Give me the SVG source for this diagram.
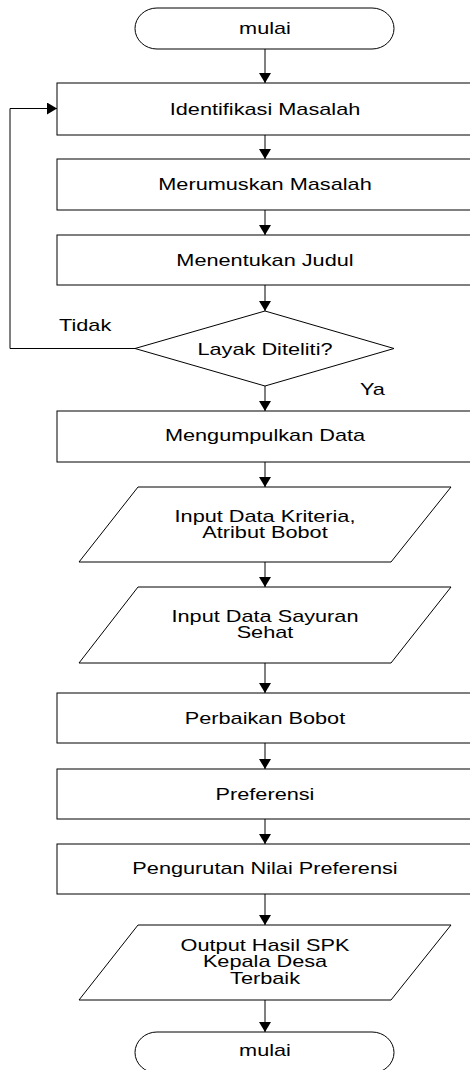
<svg xmlns="http://www.w3.org/2000/svg" width="470" height="1070" viewBox="0 0 470 1070">
<style>
.s{fill:#fff;stroke:#000;stroke-width:1}
.t{font-family:"Liberation Sans",Arial,sans-serif;font-size:16.2px;fill:#000}
.c{stroke:#000;stroke-width:1;fill:none}
</style>
<defs>
<marker id="ah" markerUnits="userSpaceOnUse" markerWidth="12" markerHeight="12" refX="10" refY="6" orient="auto" viewBox="0 0 10 12">
<path d="M0,0 L10,6 L0,12 z" fill="#000"/>
</marker>
</defs>
<rect width="470" height="1070" fill="#fff"/>
<g id="connectors">
<line class="c" x1="265" y1="49" x2="265" y2="83" marker-end="url(#ah)"/>
<line class="c" x1="265" y1="135" x2="265" y2="159" marker-end="url(#ah)"/>
<line class="c" x1="265" y1="210" x2="265" y2="235" marker-end="url(#ah)"/>
<line class="c" x1="265" y1="285" x2="265" y2="311" marker-end="url(#ah)"/>
<line class="c" x1="265" y1="386" x2="265" y2="411" marker-end="url(#ah)"/>
<line class="c" x1="265" y1="462" x2="265" y2="487" marker-end="url(#ah)"/>
<line class="c" x1="265" y1="562" x2="265" y2="587" marker-end="url(#ah)"/>
<line class="c" x1="265" y1="663" x2="265" y2="693" marker-end="url(#ah)"/>
<line class="c" x1="265" y1="743" x2="265" y2="769" marker-end="url(#ah)"/>
<line class="c" x1="265" y1="819" x2="265" y2="844" marker-end="url(#ah)"/>
<line class="c" x1="265" y1="894" x2="265" y2="925" marker-end="url(#ah)"/>
<line class="c" x1="265" y1="1000" x2="265" y2="1032" marker-end="url(#ah)"/>
<polyline class="c" points="135,348.5 10,348.5 10,108.5 57,108.5" marker-end="url(#ah)"/>
<text class="t" transform="translate(59,331) scale(1.34,1)">Tidak</text>
<text class="t" transform="translate(360,395) scale(1.34,1)">Ya</text>
</g>
<g id="start">
<rect class="s" x="135" y="8" width="259" height="41" rx="22" ry="20.5"/>
<text class="t" text-anchor="middle" transform="translate(265,34) scale(1.34,1)">mulai</text>
</g>
<g id="identifikasi">
<rect class="s" x="57" y="83" width="416" height="52"/>
<text class="t" text-anchor="middle" transform="translate(265,115) scale(1.34,1)">Identifikasi Masalah</text>
</g>
<g id="merumuskan">
<rect class="s" x="57" y="159" width="416" height="51"/>
<text class="t" text-anchor="middle" transform="translate(265,190) scale(1.34,1)">Merumuskan Masalah</text>
</g>
<g id="judul">
<rect class="s" x="57" y="235" width="416" height="50"/>
<text class="t" text-anchor="middle" transform="translate(265,266) scale(1.34,1)">Menentukan Judul</text>
</g>
<g id="layak">
<polygon class="s" points="265,311 394,348.5 265,386 135,348.5"/>
<text class="t" text-anchor="middle" transform="translate(265,355) scale(1.34,1)">Layak Diteliti?</text>
</g>
<g id="mengumpulkan">
<rect class="s" x="57" y="411" width="416" height="51"/>
<text class="t" text-anchor="middle" transform="translate(265,441) scale(1.34,1)">Mengumpulkan Data</text>
</g>
<g id="input-kriteria">
<polygon class="s" points="138,487 451,487 391,562 79,562"/>
<text class="t" text-anchor="middle" transform="translate(265,521.5) scale(1.34,1)">Input Data Kriteria,</text>
<text class="t" text-anchor="middle" transform="translate(265,538) scale(1.34,1)">Atribut Bobot</text>
</g>
<g id="input-sayuran">
<polygon class="s" points="138,587 451,587 391,663 79,663"/>
<text class="t" text-anchor="middle" transform="translate(265,621.5) scale(1.34,1)">Input Data Sayuran</text>
<text class="t" text-anchor="middle" transform="translate(265,638) scale(1.34,1)">Sehat</text>
</g>
<g id="perbaikan">
<rect class="s" x="57" y="693" width="416" height="50"/>
<text class="t" text-anchor="middle" transform="translate(265,723.5) scale(1.34,1)">Perbaikan Bobot</text>
</g>
<g id="preferensi">
<rect class="s" x="57" y="769" width="416" height="50"/>
<text class="t" text-anchor="middle" transform="translate(265,799.5) scale(1.34,1)">Preferensi</text>
</g>
<g id="pengurutan">
<rect class="s" x="57" y="844" width="416" height="50"/>
<text class="t" text-anchor="middle" transform="translate(265,873.5) scale(1.34,1)">Pengurutan Nilai Preferensi</text>
</g>
<g id="output">
<polygon class="s" points="138,925 451,925 391,1000 79,1000"/>
<text class="t" text-anchor="middle" transform="translate(265,950.5) scale(1.34,1)">Output Hasil SPK</text>
<text class="t" text-anchor="middle" transform="translate(265,967) scale(1.34,1)">Kepala Desa</text>
<text class="t" text-anchor="middle" transform="translate(265,983.5) scale(1.34,1)">Terbaik</text>
</g>
<g id="end">
<rect class="s" x="135" y="1032" width="259" height="41" rx="22" ry="20.5"/>
<text class="t" text-anchor="middle" transform="translate(265,1056) scale(1.34,1)">mulai</text>
</g>
</svg>
